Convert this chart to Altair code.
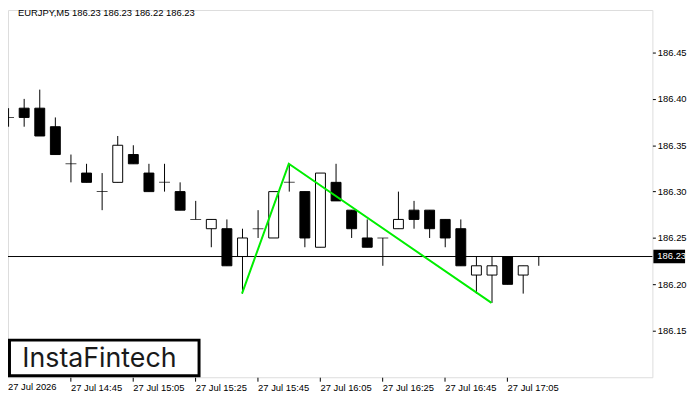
import altair as alt
import pandas as pd

symbol = "EURJPY,M5"
times = ["14:25", "14:30", "14:35", "14:40", "14:45", "14:50", "14:55", "15:00", "15:05", "15:10",
         "15:15", "15:20", "15:25", "15:30", "15:35", "15:40", "15:45", "15:50", "15:55", "16:00",
         "16:05", "16:10", "16:15", "16:20", "16:25", "16:30", "16:35", "16:40", "16:45", "16:50",
         "16:55", "17:00", "17:05", "17:10", "17:15"]
opens = [186.38, 186.39, 186.39, 186.37, 186.33, 186.32, 186.30, 186.31, 186.34, 186.32,
         186.31, 186.30, 186.27, 186.26, 186.26, 186.23, 186.26, 186.25, 186.31, 186.30,
         186.24, 186.31, 186.28, 186.25, 186.25, 186.26, 186.28, 186.28, 186.27, 186.26,
         186.21, 186.21, 186.23, 186.21, 186.23]
highs = [186.39, 186.40, 186.41, 186.38, 186.34, 186.33, 186.32, 186.36, 186.35, 186.33,
         186.33, 186.31, 186.29, 186.27, 186.27, 186.26, 186.28, 186.30, 186.33, 186.30,
         186.32, 186.33, 186.28, 186.27, 186.25, 186.30, 186.29, 186.28, 186.27, 186.27,
         186.23, 186.23, 186.23, 186.22, 186.23]
lows = [186.37, 186.37, 186.36, 186.34, 186.31, 186.31, 186.28, 186.31, 186.33, 186.30,
        186.30, 186.28, 186.27, 186.24, 186.22, 186.19, 186.25, 186.25, 186.30, 186.24,
        186.24, 186.29, 186.25, 186.24, 186.22, 186.26, 186.26, 186.25, 186.24, 186.22,
        186.19, 186.18, 186.20, 186.19, 186.22]
closes = [186.38, 186.38, 186.36, 186.34, 186.33, 186.31, 186.30, 186.35, 186.33, 186.30,
          186.31, 186.28, 186.27, 186.27, 186.22, 186.25, 186.26, 186.30, 186.31, 186.25,
          186.32, 186.29, 186.26, 186.24, 186.25, 186.27, 186.27, 186.26, 186.25, 186.22,
          186.22, 186.22, 186.20, 186.22, 186.23]

tick_idx = [1, 5, 9, 13, 17, 21, 25, 29, 33]
tick_labels = ["27 Jul 2026", "27 Jul 14:45", "27 Jul 15:05", "27 Jul 15:25", "27 Jul 15:45",
               "27 Jul 16:05", "27 Jul 16:25", "27 Jul 16:45", "27 Jul 17:05"]
y_ticks = [186.15, 186.20, 186.25, 186.30, 186.35, 186.40, 186.45]

pattern_idx = [16, 19, 32]
pattern_price = [186.19, 186.33, 186.18]

logo_text = "InstaFintech"

W, H = 651, 371
FONT = "Liberation Sans"

n = len(opens)
df = pd.DataFrame({"i": list(range(1, n + 1)), "t": times, "o": opens,
                   "h": highs, "l": lows, "c": closes})
df["dir"] = ["up" if c > o else ("down" if c < o else "flat") for o, c in zip(opens, closes)]

xs = alt.Scale(domain=[1.3125, 42.0], nice=False, zero=False)
ys = alt.Scale(domain=[186.0998, 186.4959], nice=False, zero=False)

labels_js = "[" + ",".join("'%s'" % s for s in tick_labels) + "]"
xaxis = alt.Axis(values=tick_idx[1:], labelExpr=labels_js + "[(datum.value-1)/4]",
                 title=None, grid=False, domain=False, tickSize=4, tickColor="black",
                 labelAlign="left", labelBaseline="top", labelPadding=1,
                 labelFontSize=9.5, labelFont=FONT, labelColor="black",
                 labelFlush=False, labelOverlap=False)
yaxis = alt.Axis(orient="right", values=y_ticks, format=".2f", title=None, grid=False,
                 domain=False, tickSize=3, tickColor="black", labelPadding=2,
                 labelFontSize=9.5, labelFont=FONT, labelColor="black")


def X(f="i"):
    return alt.X(f + ":Q", scale=xs, axis=xaxis)


def Y(f):
    return alt.Y(f + ":Q", scale=ys, axis=yaxis)


base = alt.Chart(df)

wicks = base.mark_rule(color="black", strokeWidth=1, xOffset=0.5, clip=True).encode(
    x=X(), y=Y("l"), y2="h:Q")

bodies = base.transform_filter("datum.o != datum.c").mark_bar(
    size=10, stroke="black", strokeWidth=1, xOffset=0.5, clip=True, opacity=1).encode(
    x=X(), y=Y("o"), y2="c:Q",
    fill=alt.Fill("dir:N", scale=alt.Scale(domain=["up", "down"], range=["white", "black"]),
                  legend=None))

doji = base.transform_filter("datum.o == datum.c").mark_tick(
    orient="horizontal", size=11, thickness=1, color="black", xOffset=0.5, clip=True).encode(
    x=X(), y=Y("o"))

last = pd.DataFrame({"p": [closes[-1]]})
price_line = alt.Chart(last).mark_rule(color="black", strokeWidth=1).encode(y=Y("p"))

pattern = alt.Chart(pd.DataFrame({"i": pattern_idx, "p": pattern_price})).mark_line(
    color="#00ee00", strokeWidth=2, clip=True).encode(x=X(), y=Y("p"))

price_box = alt.Chart(last).transform_calculate(
    top="datum.p + 0.0072", bot="datum.p - 0.0072").mark_rect(color="black").encode(
    x=alt.value(W + 1), x2=alt.value(W + 33), y=Y("top"), y2="bot:Q")

price_txt = alt.Chart(last).mark_text(color="white", align="left", baseline="middle",
                                      fontSize=9.5, font=FONT).encode(
    x=alt.value(W + 5), y=Y("p"), text=alt.Text("p:Q", format=".2f"))

title_str = "%s  %.2f %.2f %.2f %.2f" % (symbol, opens[-1], highs[-1], lows[-1], closes[-1])
title_txt = alt.Chart(pd.DataFrame({"s": [title_str]})).mark_text(
    align="left", baseline="middle", fontSize=9.5, font=FONT, color="black").encode(
    x=alt.value(10), y=alt.value(3.5), text="s:N")

first_lbl = alt.Chart(pd.DataFrame({"s": [tick_labels[0]]})).mark_text(
    align="left", baseline="top", fontSize=9.5, font=FONT, color="black").encode(
    x=alt.value(0), y=alt.value(H + 5), text="s:N")

logo_box = alt.Chart(pd.DataFrame({"s": [logo_text]})).mark_rect(
    fill="white", stroke="black", strokeWidth=3).encode(
    x=alt.value(1.5), x2=alt.value(193), y=alt.value(333.5), y2=alt.value(369.5))

logo_txt = alt.Chart(pd.DataFrame({"s": [logo_text]})).mark_text(
    align="left", baseline="alphabetic", fontSize=27, font="Inter", fontWeight=400,
    color="#1a1a1a").encode(x=alt.value(14.5), y=alt.value(361), text="s:N")

chart = alt.layer(
    wicks, bodies, doji, price_line, pattern, price_box, price_txt,
    title_txt, first_lbl, logo_box, logo_txt
).properties(
    width=W, height=H,
    autosize=alt.AutoSizeParams(type="none"),
    padding={"left": 0, "top": 0, "right": 40, "bottom": 22}
).configure_view(stroke="black", strokeWidth=1).configure(background="white")

chart.save("out.html", embed_options={"renderer": "svg", "actions": False})
